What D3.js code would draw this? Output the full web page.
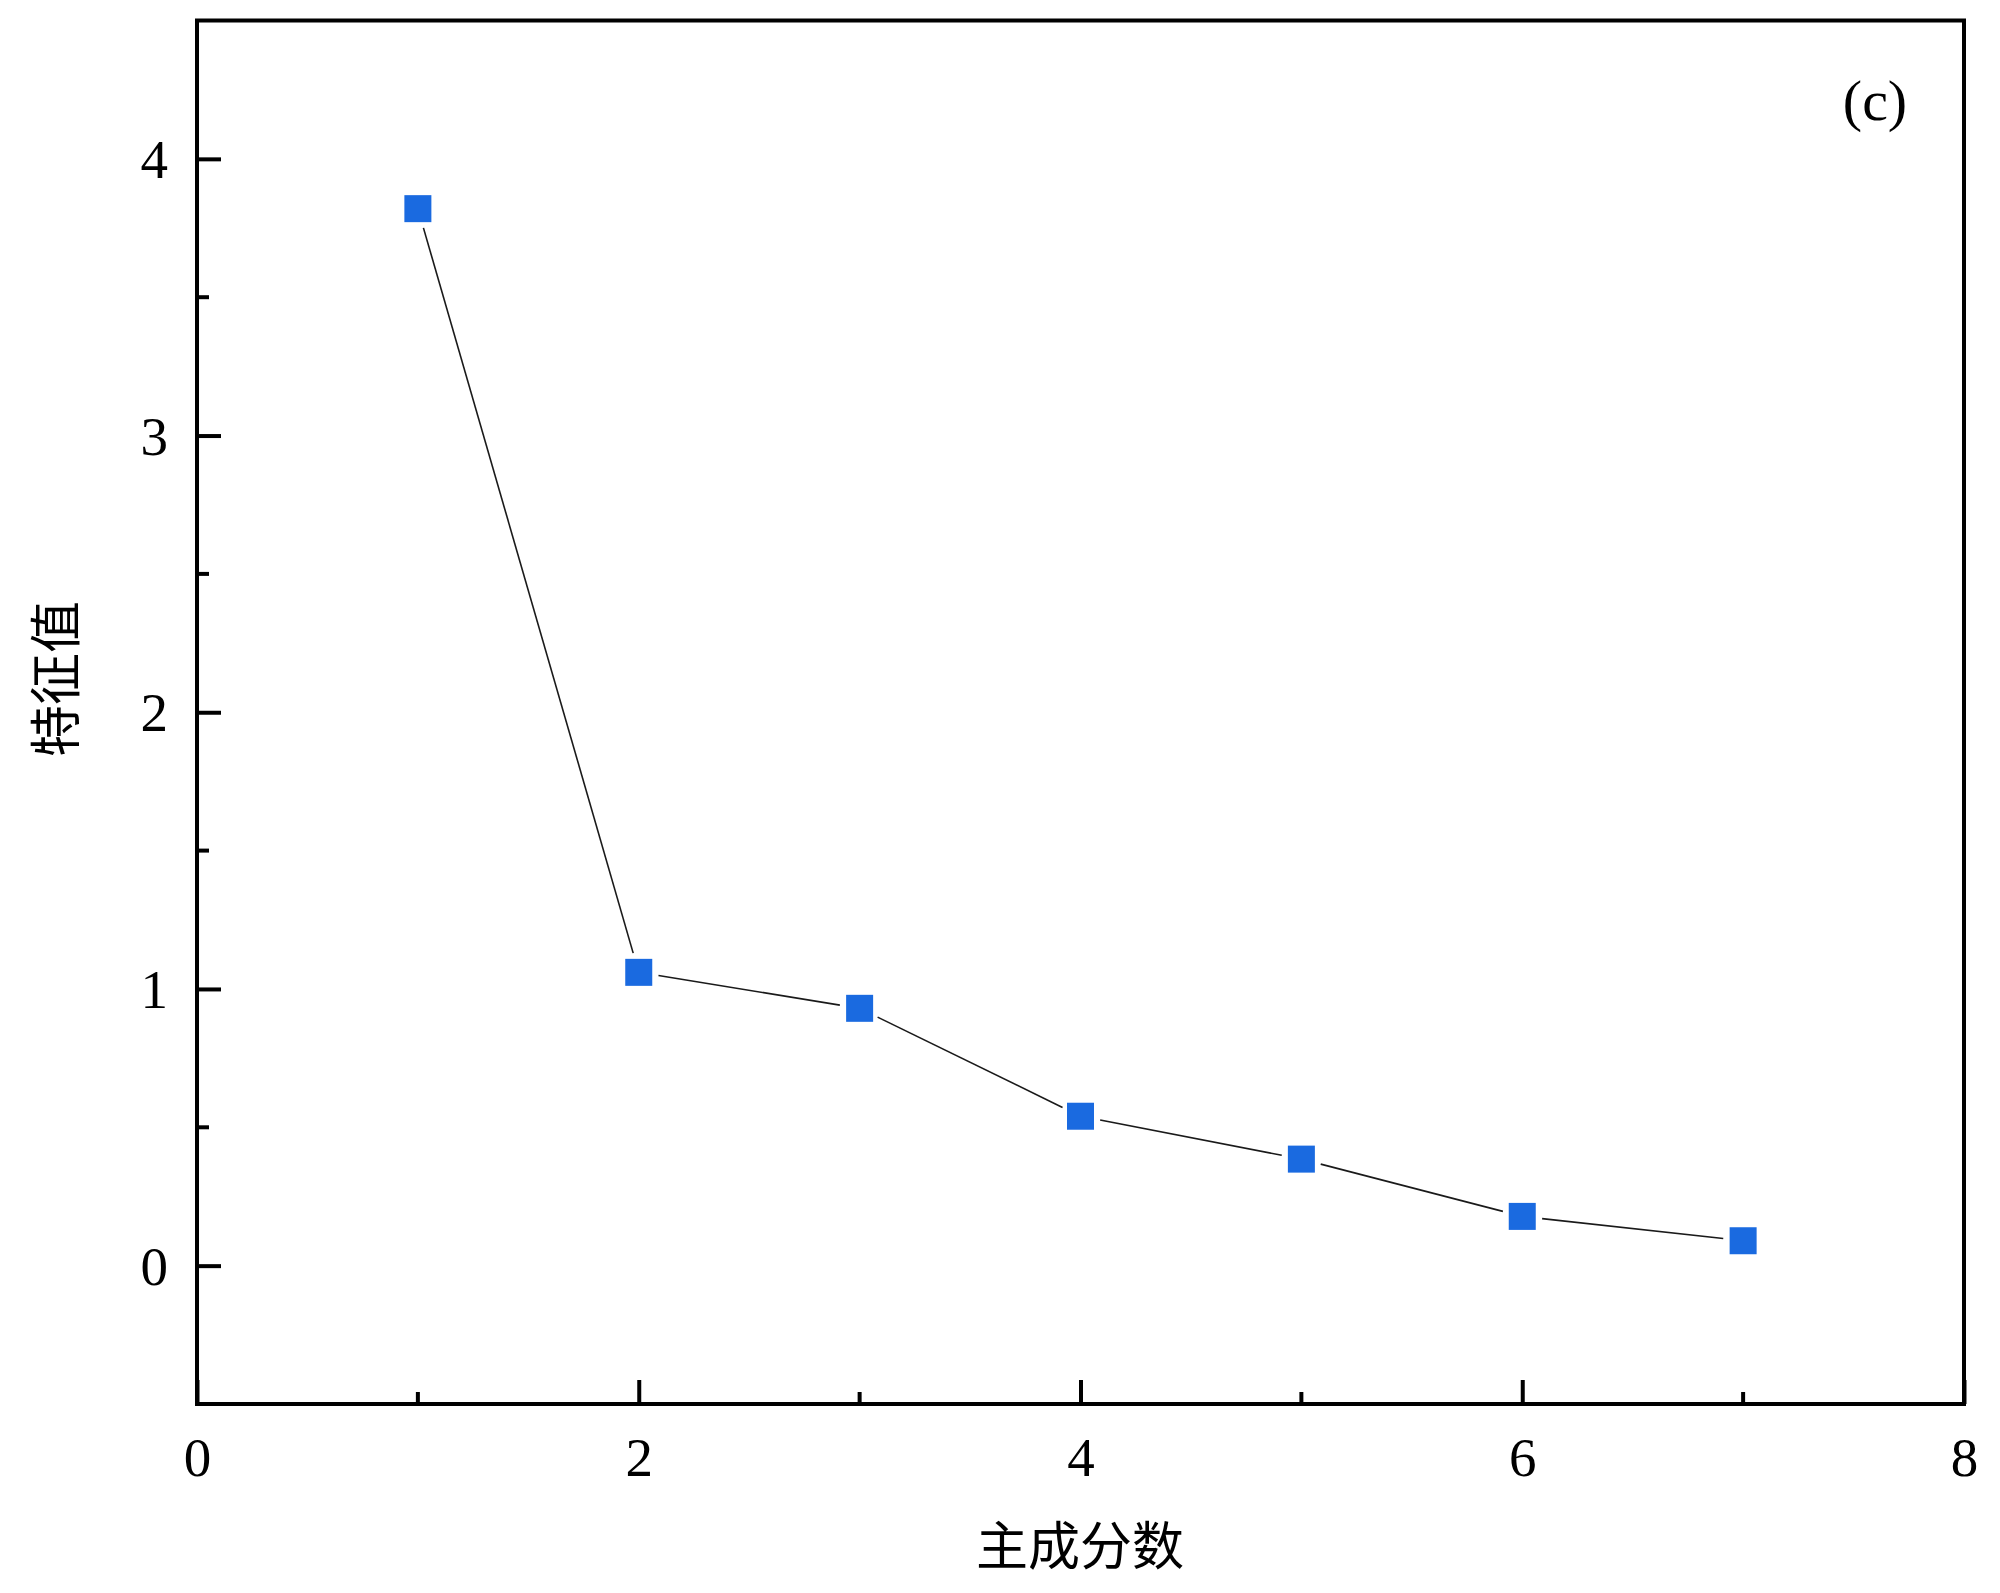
<!DOCTYPE html>
<html>
<head>
<meta charset="utf-8">
<script src="https://cdn.jsdelivr.net/npm/d3@7/dist/d3.min.js"></script>
<style>
  body { margin: 0; background: #fff; }
  svg { display: block; }
</style>
</head>
<body>
<div id="chart"></div>
<script>
// eigenvalue per principal component (scree plot)
var components = [1, 2, 3, 4, 5, 6, 7];
var eigenvalues = [3.82, 1.06, 0.93, 0.54, 0.385, 0.178, 0.09];
var xTicks = [0, 2, 4, 6, 8];
var xMinor = [1, 3, 5, 7];
var yTicks = [0, 1, 2, 3, 4];
var yMinor = [0.5, 1.5, 2.5, 3.5];

var width = 2000, height = 1593;
// plot box ('top' is a window global, so use prefixed names)
var pLeft = 197, pRight = 1964, pTop = 20.5, pBottom = 1404;
var serif = '"Liberation Serif", "Times New Roman", serif';
var cjk = '"Noto Sans CJK SC", sans-serif';

var svg = d3.select('#chart').append('svg')
  .attr('width', width).attr('height', height);

var x = d3.scaleLinear().domain([0, 8]).range([pLeft, pRight]);
var y = d3.scaleLinear().domain([-0.5, 4.5]).range([pBottom, pTop]);

// ticks (drawn inward)
var xAxis = d3.axisBottom(x).tickValues(xTicks).tickFormat(d3.format('d')).tickSize(-24);
var gx = svg.append('g').attr('transform', 'translate(0,' + pBottom + ')').call(xAxis);
gx.select('.domain').remove();
gx.selectAll('.tick line').attr('stroke', '#000').attr('stroke-width', 4);
gx.selectAll('.tick text').attr('font-family', serif).attr('font-size', 55)
  .attr('fill', '#000').attr('y', 33).attr('dy', '0.71em');
svg.append('g').selectAll('line').data(xMinor).enter().append('line')
  .attr('x1', function(d) { return x(d); }).attr('x2', function(d) { return x(d); })
  .attr('y1', pBottom).attr('y2', pBottom - 12)
  .attr('stroke', '#000').attr('stroke-width', 4);

var yAxis = d3.axisLeft(y).tickValues(yTicks).tickFormat(d3.format('d')).tickSize(-24);
var gy = svg.append('g').attr('transform', 'translate(' + pLeft + ',0)').call(yAxis);
gy.select('.domain').remove();
gy.selectAll('.tick line').attr('stroke', '#000').attr('stroke-width', 4);
gy.selectAll('.tick text').attr('font-family', serif).attr('font-size', 55)
  .attr('fill', '#000').attr('x', -29).attr('dy', '0.34em');
svg.append('g').selectAll('line').data(yMinor).enter().append('line')
  .attr('y1', function(d) { return y(d); }).attr('y2', function(d) { return y(d); })
  .attr('x1', pLeft).attr('x2', pLeft + 12)
  .attr('stroke', '#000').attr('stroke-width', 4);

// frame
svg.append('rect')
  .attr('x', pLeft).attr('y', pTop)
  .attr('width', pRight - pLeft).attr('height', pBottom - pTop)
  .attr('fill', 'none').attr('stroke', '#000').attr('stroke-width', 4);

// connecting line, with a gap around each marker
var pts = components.map(function(c, i) { return [x(c), y(eigenvalues[i])]; });
var gap = 20;
var segs = [];
for (var i = 0; i < pts.length - 1; i++) {
  var a = pts[i], b = pts[i + 1];
  var dx = b[0] - a[0], dy = b[1] - a[1];
  var len = Math.sqrt(dx * dx + dy * dy);
  var ux = dx / len, uy = dy / len;
  segs.push([[a[0] + ux * gap, a[1] + uy * gap], [b[0] - ux * gap, b[1] - uy * gap]]);
}
svg.append('g').selectAll('path').data(segs).enter().append('path')
  .attr('d', function(d) { return d3.line()(d); })
  .attr('stroke', '#1a1a1a').attr('stroke-width', 1.6).attr('fill', 'none');

// square markers
var ms = 27;
svg.append('g').selectAll('rect').data(components).enter().append('rect')
  .attr('x', function(d) { return x(d) - ms / 2; })
  .attr('y', function(d, i) { return y(eigenvalues[i]) - ms / 2; })
  .attr('width', ms).attr('height', ms)
  .attr('fill', '#1a6ae0');

// panel label
svg.append('text').attr('x', 1875).attr('y', 120)
  .attr('text-anchor', 'middle').attr('font-family', serif).attr('font-size', 58)
  .text('(c)');

// axis titles
svg.append('text').attr('x', 1080).attr('y', 1546).attr('dy', '0.36em')
  .attr('text-anchor', 'middle').attr('font-family', cjk).attr('font-size', 52)
  .text('主成分数');
svg.append('text')
  .attr('transform', 'translate(56,679) rotate(-90)')
  .attr('dy', '0.36em')
  .attr('text-anchor', 'middle').attr('font-family', cjk).attr('font-size', 52)
  .text('特征值');
</script>
</body>
</html>
